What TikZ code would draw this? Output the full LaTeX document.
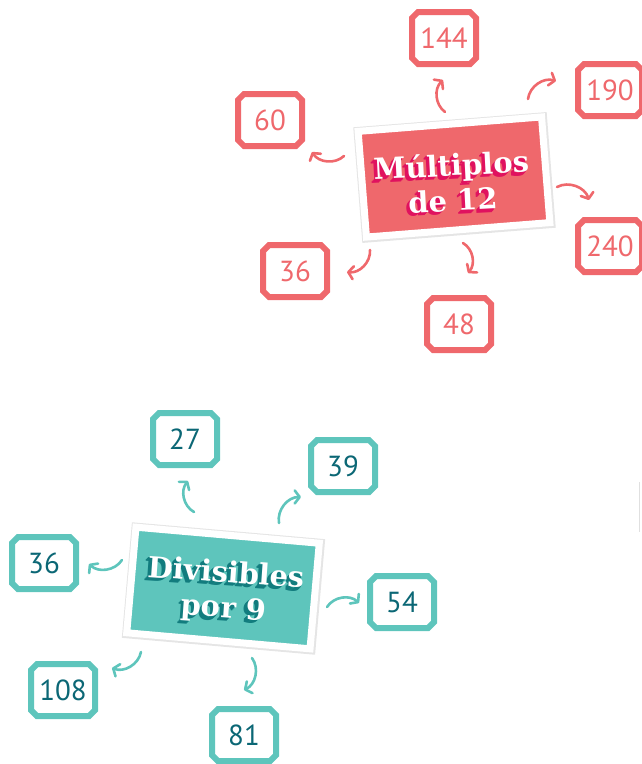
\documentclass[tikz,border=0pt]{standalone}
\usepackage{fontspec}
\setmainfont{PT Sans}
\newfontfamily\titlefont{DejaVu Serif Bold}
\usetikzlibrary{shapes.misc,arrows.meta}
\definecolor{redC}{HTML}{EF686C}
\definecolor{redShadow}{HTML}{E0125F}
\definecolor{tealC}{HTML}{5EC5BC}
\definecolor{tealShadow}{HTML}{127C7E}
\definecolor{tealText}{HTML}{0B6775}
\begin{document}
\begin{tikzpicture}[x=1pt,y=1pt,
  numbox/.style={chamfered rectangle, chamfered rectangle xsep=3pt, chamfered rectangle ysep=3pt,
    draw=#1, line width=6pt, fill=white, minimum width=64pt, minimum height=52pt, inner sep=0pt,
    font=\fontsize{29}{30}\selectfont},
  redbox/.style={numbox=redC, text=redC},
  tealbox/.style={numbox=tealC, text=tealText},
  cardshadow/.style={chamfered rectangle, chamfered rectangle xsep=4pt, chamfered rectangle ysep=4pt,
    fill=black, opacity=0.10, minimum width=194pt, minimum height=116pt, inner sep=0pt},
  card/.style={chamfered rectangle, chamfered rectangle xsep=3pt, chamfered rectangle ysep=3pt,
    draw=white, line width=7pt, fill=#1, minimum width=184pt, minimum height=106pt, inner sep=0pt},
  titletxt/.style={align=center, inner sep=0pt, font=\titlefont\fontsize{29}{35}\selectfont},
  arr/.style={draw=#1, line width=2.6pt, line cap=round, line join=round,
    -{Straight Barb[length=5pt,width=13pt,line cap=round,line join=round]}},
]
\useasboundingbox (0,0) rectangle (641,-764);

% ---------- Multiplos de 12 ----------
\node[cardshadow, rotate=4.5] (shR) at (454.5,-177.5) {};
\node[card=redC, rotate=4.5] (cardR) at (454,-177) {};
\foreach \d in {3.5,2.5,1.5}
  \node[titletxt, text=redShadow, rotate=3, xshift=-\d pt, yshift=-\d pt] at (452,-182)
    {Múltiplos\\de 12};
\node[titletxt, text=white, rotate=3] (titleR) at (452,-182) {Múltiplos\\de 12};

\node[redbox] (r144) at (444,-38) {144};
\node[redbox] (r190) at (610,-90) {190};
\node[redbox] (r240) at (610,-246) {240};
\node[redbox] (r60)  at (270,-120) {60};
\node[redbox] (r36)  at (295,-271) {36};
\node[redbox] (r48)  at (459,-324) {48};

\coordinate (ra1) at (445,-112); \coordinate (rb1) at (443,-80);
\coordinate (ra2) at (528,-99);  \coordinate (rb2) at (556,-81);
\coordinate (ra3) at (344,-156); \coordinate (rb3) at (312,-152);
\coordinate (ra4) at (557,-187); \coordinate (rb4) at (589,-200);
\coordinate (ra5) at (370,-250); \coordinate (rb5) at (347,-272);
\coordinate (ra6) at (463,-243); \coordinate (rb6) at (468,-273);
\foreach \i in {1,...,6}
  \draw[arr=redC] (ra\i) to[bend left=50] (rb\i);

% ---------- Divisibles por 9 ----------
\node[cardshadow, rotate=-5] (shT) at (223.5,-588.5) {};
\node[card=tealC, rotate=-5] (cardT) at (223,-588) {};
\foreach \d in {3.5,2.5,1.5}
  \node[titletxt, text=tealShadow, rotate=-4, xshift=-\d pt, yshift=-\d pt] at (225,-592)
    {Divisibles\\por 9};
\node[titletxt, text=white, rotate=-4] (titleT) at (225,-592) {Divisibles\\por 9};

\node[tealbox] (t27)  at (185,-439) {27};
\node[tealbox] (t39)  at (343,-466) {39};
\node[tealbox] (t36)  at (44,-563) {36};
\node[tealbox] (t54)  at (402,-602) {54};
\node[tealbox] (t108) at (63,-690) {108};
\node[tealbox] (t81)  at (244,-735) {81};

\coordinate (ta1) at (194,-512); \coordinate (tb1) at (188,-481);
\coordinate (ta2) at (279,-523); \coordinate (tb2) at (301,-497);
\coordinate (ta3) at (122,-560); \coordinate (tb3) at (89,-564);
\coordinate (ta4) at (327,-607); \coordinate (tb4) at (359,-603);
\coordinate (ta5) at (141,-652); \coordinate (tb5) at (112,-668);
\coordinate (ta6) at (252,-658); \coordinate (tb6) at (244,-690);
\foreach \i in {1,...,6}
  \draw[arr=tealC] (ta\i) to[bend left=50] (tb\i);

% faint edge line at right border
\coordinate (e1) at (639.5,-482); \coordinate (e2) at (639.5,-532);
\draw[black!12, line width=1pt] (e1) -- (e2);
\end{tikzpicture}
\end{document}
